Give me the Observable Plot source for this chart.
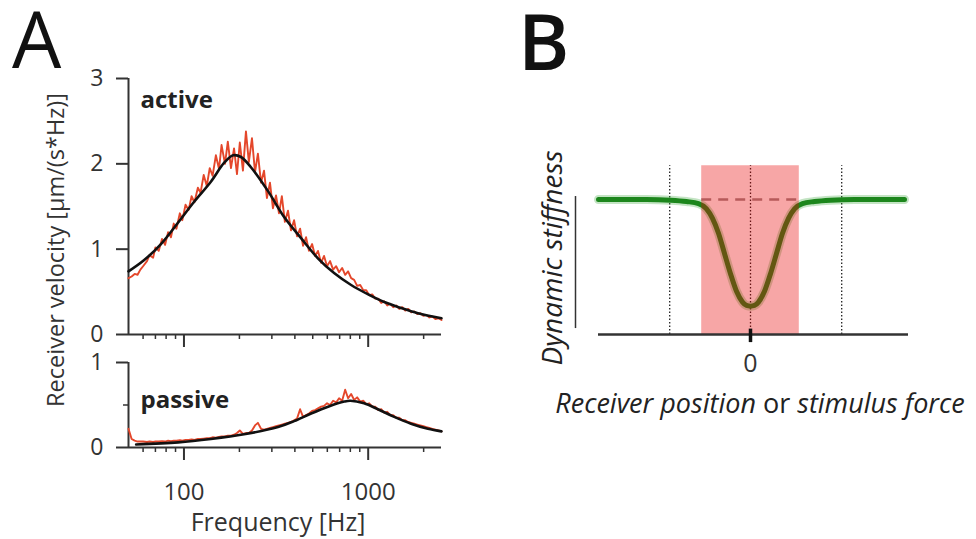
<!DOCTYPE html>
<html><head><meta charset="utf-8">
<script src="https://cdn.jsdelivr.net/npm/d3@7"></script>
<script src="https://cdn.jsdelivr.net/npm/@observablehq/plot@0.6"></script>
<style>
body{margin:0;background:#fff;}
#wrap{position:relative;width:976px;height:539px;overflow:hidden;background:#fff;font-family:"Open Sans",sans-serif;}
#wrap svg{overflow:visible;position:absolute;}
</style></head><body><div id="wrap"></div>
<script>
// ---------- Panel A data ----------
const freqHz = [
  50, 52, 54, 56, 58, 60, 63, 65, 68, 70,
  73, 76, 79, 82, 85, 88, 91, 95, 98, 102,
  106, 110, 114, 119, 123, 128, 133, 138, 143, 149,
  155, 160, 167, 173, 180, 187, 194, 201, 209, 217,
  225, 234, 243, 252, 262, 272, 282, 293, 304, 316,
  328, 340, 353, 367, 381, 396, 411, 427, 443, 460,
  477, 496, 515, 534, 555, 576, 598, 621, 645, 670,
  695, 722, 750, 778, 808, 839, 871, 905, 940, 976,
  1013, 1052, 1092, 1134, 1177, 1222, 1269, 1318, 1368, 1421,
  1475, 1532, 1590, 1651, 1715, 1780, 1848, 1919, 1993, 2069,
  2148, 2230, 2316, 2405, 2500
];
const activeRed = [
  0.66, 0.68, 0.71, 0.70, 0.76, 0.80, 0.86, 0.93, 0.90, 1.02,
  0.98, 1.12, 1.05, 1.20, 1.14, 1.30, 1.24, 1.42, 1.34, 1.52,
  1.46, 1.62, 1.55, 1.72, 1.66, 1.87, 1.74, 1.95, 1.86, 2.10,
  1.94, 2.22, 2.00, 2.26, 1.95, 2.18, 1.88, 2.25, 1.92, 2.38,
  2.02, 2.30, 1.90, 2.12, 1.78, 1.92, 1.60, 1.78, 1.48, 1.63,
  1.42, 1.62, 1.32, 1.45, 1.22, 1.34, 1.15, 1.24, 1.04, 1.14,
  0.98, 1.06, 0.92, 0.98, 0.84, 0.92, 0.80, 0.86, 0.76, 0.80,
  0.73, 0.78, 0.70, 0.74, 0.66, 0.64, 0.57, 0.58, 0.52, 0.52,
  0.46, 0.47, 0.42, 0.42, 0.37, 0.39, 0.34, 0.36, 0.32, 0.34,
  0.30, 0.32, 0.28, 0.30, 0.26, 0.27, 0.24, 0.25, 0.22, 0.23,
  0.20, 0.21, 0.18, 0.19, 0.17
];
const passiveRed = [
  0.22, 0.10, 0.08, 0.07, 0.07, 0.07, 0.065, 0.07, 0.065, 0.07,
  0.07, 0.075, 0.07, 0.08, 0.075, 0.08, 0.08, 0.085, 0.08, 0.09,
  0.09, 0.095, 0.09, 0.10, 0.10, 0.105, 0.11, 0.11, 0.12, 0.115,
  0.125, 0.13, 0.13, 0.14, 0.14, 0.15, 0.17, 0.20, 0.16, 0.17,
  0.17, 0.20, 0.26, 0.29, 0.22, 0.21, 0.22, 0.23, 0.24, 0.25,
  0.26, 0.27, 0.28, 0.29, 0.30, 0.32, 0.34, 0.45, 0.36, 0.38,
  0.40, 0.43, 0.44, 0.46, 0.48, 0.49, 0.52, 0.50, 0.55, 0.53,
  0.58, 0.55, 0.68, 0.58, 0.63, 0.56, 0.59, 0.54, 0.55, 0.51,
  0.52, 0.48, 0.48, 0.44, 0.45, 0.41, 0.42, 0.38, 0.38, 0.35,
  0.35, 0.32, 0.32, 0.30, 0.29, 0.28, 0.27, 0.26, 0.25, 0.24,
  0.23, 0.22, 0.21, 0.20, 0.19
];
const activeFitHz = [50, 60.6, 75, 92.8, 113, 140, 165, 185, 204, 231, 286, 349, 432, 535, 653, 808, 1000, 1222, 1510, 1862, 2500];
const activeFit   = [0.74, 0.87, 1.06, 1.31, 1.55, 1.79, 2.01, 2.10, 2.08, 1.96, 1.68, 1.38, 1.13, 0.89, 0.72, 0.58, 0.47, 0.38, 0.31, 0.25, 0.19];
const passiveFitHz = [55, 93, 140, 212, 324, 396, 490, 606, 741, 800, 950, 1130, 1385, 1707, 2109, 2500];
const passiveFit   = [0.035, 0.06, 0.10, 0.155, 0.24, 0.31, 0.40, 0.48, 0.54, 0.55, 0.52, 0.45, 0.36, 0.28, 0.22, 0.19];
const yTicksActive = [0, 1, 2, 3];
const yTicksPassive = [0, 1];
const yMinorPassive = [0.5];
const xMajorTicks = [100, 1000];
const xMinorTicks = [60, 70, 80, 90, 200, 300, 400, 500, 600, 700, 800, 900, 2000];
const traceLabels = ["active", "passive"];
const panelLabels = ["A", "B"];

// ---------- Panel B data ----------
const bPosition = [-3.8, -2.6, -2.0, -1.6, -1.3, -1.1, -0.95, -0.8, -0.65, -0.5, -0.35, -0.2, -0.1, 0, 0.1, 0.2, 0.35, 0.5, 0.65, 0.8, 0.95, 1.1, 1.3, 1.6, 2.0, 2.6, 3.85];
const bStiffness = [1.0, 1.0, 0.995, 0.985, 0.97, 0.93, 0.86, 0.75, 0.6, 0.45, 0.32, 0.24, 0.215, 0.21, 0.215, 0.24, 0.32, 0.45, 0.6, 0.75, 0.86, 0.93, 0.97, 0.985, 0.995, 1.0, 1.0];
const bGuides = [-2.02, 0, 2.28];
const bWindow = [-1.22, 1.22];
const bWindowTop = 1.25;
const bBaseline = 1;
const bTicks = [0];

// ---------- build ----------
const wrap = document.getElementById("wrap");
const AX = "#333";
const RED = "#e4472b";
const FONT = "'Open Sans', sans-serif";
const zip = (xs, ys) => xs.map((f, i) => ({f, v: ys[i]}));
const activeTrace = zip(freqHz, activeRed);
const passiveTrace = zip(freqHz, passiveRed);
const activeFitData = zip(activeFitHz, activeFit);
const passiveFitData = zip(passiveFitHz, passiveFit);
const noLabel = () => "";
const intLabel = d => String(d);

function place(el, left, top) { el.style.left = left + "px"; el.style.top = top + "px"; wrap.appendChild(el); }

const topPlot = Plot.plot({
  width: 480, height: 300, marginTop: 18, marginBottom: 26, marginLeft: 128, marginRight: 39,
  style: {fontFamily: FONT, fontSize: "23px", background: "transparent", overflow: "visible"},
  x: {type: "log", domain: [50, 2500]},
  y: {domain: [0, 3]},
  marks: [
    Plot.ruleY([0], {stroke: AX, strokeWidth: 2}),
    Plot.ruleX([50], {y1: 0, y2: 3, stroke: AX, strokeWidth: 2}),
    Plot.axisY(yTicksActive, {tickSize: 12, tickPadding: 13, tickFormat: intLabel, stroke: AX, fill: AX, strokeWidth: 2, fontSize: 23, label: null}),
    Plot.axisX(xMajorTicks, {tickSize: 13, tickFormat: noLabel, stroke: AX, strokeWidth: 2, label: null}),
    Plot.axisX(xMinorTicks, {tickSize: 5, tickFormat: noLabel, stroke: AX, strokeWidth: 1.5, label: null}),
    Plot.line(activeTrace, {x: "f", y: "v", stroke: RED, strokeWidth: 1.9}),
    Plot.line(activeFitData, {x: "f", y: "v", stroke: "#111", strokeWidth: 2.6, curve: "catmull-rom"}),
    Plot.text([traceLabels[0]], {frameAnchor: "top-left", dx: 12, dy: 29, lineAnchor: "bottom", textAnchor: "start", fontWeight: "bold", fontSize: 24, fill: "#222"})
  ]
});
place(topPlot, 0, 60);

const botPlot = Plot.plot({
  width: 480, height: 199, marginTop: 22, marginBottom: 92, marginLeft: 128, marginRight: 39,
  style: {fontFamily: FONT, fontSize: "23px", background: "transparent", overflow: "visible"},
  x: {type: "log", domain: [50, 2500]},
  y: {domain: [0, 1]},
  marks: [
    Plot.ruleY([0], {stroke: AX, strokeWidth: 2}),
    Plot.ruleX([50], {y1: 0, y2: 1, stroke: AX, strokeWidth: 2}),
    Plot.axisY(yTicksPassive, {tickSize: 12, tickPadding: 13, tickFormat: intLabel, stroke: AX, fill: AX, strokeWidth: 2, fontSize: 23, label: null}),
    Plot.axisY(yMinorPassive, {tickSize: 5, tickFormat: noLabel, stroke: AX, strokeWidth: 1.5, label: null}),
    Plot.axisX(xMajorTicks, {tickSize: 13, tickPadding: 22, tickFormat: intLabel, stroke: AX, fill: AX, strokeWidth: 2, fontSize: 24, label: null}),
    Plot.axisX(xMinorTicks, {tickSize: 5, tickFormat: noLabel, stroke: AX, strokeWidth: 1.5, label: null}),
    Plot.line(passiveTrace, {x: "f", y: "v", stroke: RED, strokeWidth: 1.9}),
    Plot.line(passiveFitData, {x: "f", y: "v", stroke: "#111", strokeWidth: 2.6, curve: "catmull-rom"}),
    Plot.text([traceLabels[1]], {frameAnchor: "top-left", dx: 12, dy: 45, lineAnchor: "bottom", textAnchor: "start", fontWeight: "bold", fontSize: 24, fill: "#222"}),
    Plot.text(["Frequency [Hz]"], {frameAnchor: "bottom", dx: -7, dy: 83, lineAnchor: "bottom", fontSize: 25, fill: AX})
  ]
});
place(botPlot, 0, 340);

const bData = bPosition.map((x, i) => ({x, y: bStiffness[i]}));
const bPlot = Plot.plot({
  width: 456, height: 300, marginTop: 18.5, marginBottom: 79, marginLeft: 30, marginRight: 6,
  style: {fontFamily: FONT, fontSize: "23px", background: "transparent", overflow: "visible"},
  x: {domain: [-5, 5.5], axis: null},
  y: {domain: [-0.2, 1.3], axis: null},
  marks: [
    Plot.ruleX(bGuides, {y1: 0, y2: bWindowTop, stroke: "#222", strokeWidth: 1.3, strokeDasharray: "1.5,2"}),
    Plot.ruleY([bBaseline], {x1: bWindow[0], x2: bWindow[1], stroke: "#9c8a8a", strokeWidth: 2.4, strokeDasharray: "10,7"}),
    Plot.line(bData, {x: "x", y: "y", stroke: "#3aa53a", strokeWidth: 9, strokeOpacity: 0.3, curve: "monotone-x"}),
    Plot.line(bData, {x: "x", y: "y", stroke: "#1c861c", strokeWidth: 5, curve: "monotone-x"}),
    Plot.rect([bWindow], {x1: d => d[0], x2: d => d[1], y1: 0, y2: bWindowTop, fill: "#e80000", fillOpacity: 0.35}),
    Plot.ruleY([0], {x1: -3.8, x2: 3.95, stroke: AX, strokeWidth: 2.5}),
    Plot.ruleX([-4.375], {y1: 0.044, y2: 1.022, stroke: AX, strokeWidth: 1.5}),
    Plot.ruleX(bTicks, {y1: 0.04, y2: -0.06, stroke: "#111", strokeWidth: 3.5}),
    Plot.text(bTicks, {x: d => d, y: d => 0, dy: 29, fontSize: 25, fill: AX, text: d => String(d)})
  ]
});
place(bPlot, 520, 140);

// overlay labels
const ov = d3.select(wrap).append("svg").attr("width", 976).attr("height", 539)
  .style("left", "0px").style("top", "0px").style("pointer-events", "none")
  .attr("font-family", FONT);
ov.append("text").attr("x", 12).attr("y", 68).attr("font-size", 78).attr("font-weight", 500).attr("fill", "#111").text(panelLabels[0]);
ov.append("text").attr("x", 518).attr("y", 70).attr("font-size", 78).attr("font-weight", 600).attr("fill", "#111").text(panelLabels[1]);
ov.append("text").attr("transform", "translate(64,250) rotate(-90)").attr("text-anchor", "middle")
  .attr("font-size", 23.5).attr("fill", AX).text("Receiver velocity [µm/(s*Hz)]");
ov.append("text").attr("transform", "translate(562,258) rotate(-90)").attr("text-anchor", "middle")
  .attr("font-size", 28).attr("font-style", "italic").attr("fill", "#222").text("Dynamic stiffness");
const xl = ov.append("text").attr("x", 760).attr("y", 413).attr("text-anchor", "middle").attr("font-size", 27).attr("fill", "#222");
xl.append("tspan").attr("font-style", "italic").text("Receiver position");
xl.append("tspan").text(" or ");
xl.append("tspan").attr("font-style", "italic").text("stimulus force");
</script></body></html>
